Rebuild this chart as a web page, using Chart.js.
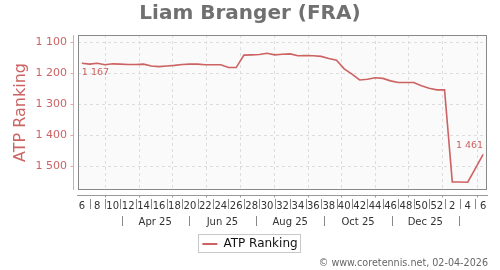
<!DOCTYPE html>
<html>
<head>
<meta charset="utf-8">
<script src="https://cdn.jsdelivr.net/npm/chart.js@4.4.1/dist/chart.umd.min.js"></script>
<style>
  html, body { margin: 0; padding: 0; background: #fff; }
  #wrap { width: 500px; height: 270px; }
</style>
</head>
<body>
<div id="wrap"><canvas id="rankChart" width="500" height="270"></canvas></div>
<script>
// ISO week of each weekly ranking (Feb 2025 -> Feb 2026)
const weeks = [
  "6", "7", "8", "9", "10", "11", "12", "13", "14", "15",
  "16", "17", "18", "19", "20", "21", "22", "23", "24", "25",
  "26", "27", "28", "29", "30", "31", "32", "33", "34", "35",
  "36", "37", "38", "39", "40", "41", "42", "43", "44", "45",
  "46", "47", "48", "49", "50", "51", "52", "1", "2", "3",
  "4", "5", "6"
];

// ATP ranking, one value per week
const ranking = [
  1167, 1170, 1167, 1172, 1169, 1170, 1171, 1171, 1170, 1176,
  1178, 1176, 1174, 1171, 1170, 1170, 1172, 1172, 1172, 1181,
  1181, 1141, 1140, 1139, 1135, 1140, 1138, 1137, 1143, 1142,
  1143, 1145, 1152, 1157, 1185, 1202, 1221, 1219, 1214, 1216,
  1224, 1229, 1229, 1229, 1240, 1248, 1253, 1253, 1550, 1550,
  1551, 1506, 1461
];

const yTicks = [1100, 1200, 1300, 1400, 1500];

// dates used for the second row of the x axis
const firstWeekDate = "2025-02-08";
const monthGrid = [
  "2025-03-01", "2025-04-01", "2025-05-01", "2025-06-01", "2025-07-01", "2025-08-01",
  "2025-09-01", "2025-10-01", "2025-11-01", "2025-12-01", "2026-01-01", "2026-02-01"
];
const monthBounds = ["2025-03-16", "2025-05-16", "2025-07-16", "2025-09-16", "2025-11-16", "2026-01-16"];
const monthLabels = ["Apr 25", "Jun 25", "Aug 25", "Oct 25", "Dec 25"];

const lineColor = "#cd6262";
const FONT = "'DejaVu Sans', Verdana, sans-serif";

Chart.defaults.font.family = FONT;

function weekIndex(dateStr) {
  return (Date.parse(dateStr) - Date.parse(firstWeekDate)) / (7 * 86400000);
}

function formatRank(v) {
  return String(v).replace(/\B(?=(\d{3})+(?!\d))/g, " ");
}

// plot background, frame, axis lines, separators, point labels, footer
const decorPlugin = {
  id: "decor",
  beforeDraw(chart) {
    const { ctx, chartArea: a } = chart;
    ctx.save();
    ctx.fillStyle = "#fafafa";
    ctx.fillRect(a.left, a.top, a.right - a.left, a.bottom - a.top);
    ctx.restore();
  },
  beforeDatasetsDraw(chart) {
    const { ctx, chartArea: a } = chart;
    const xs = chart.scales.x;
    ctx.save();
    ctx.strokeStyle = "#dddddd";
    ctx.lineWidth = 1;
    ctx.setLineDash([3, 3]);
    monthGrid.forEach((d) => {
      const px = Math.round(xs.getPixelForValue(weekIndex(d))) + 0.5;
      ctx.beginPath();
      ctx.moveTo(px, a.top);
      ctx.lineTo(px, a.bottom);
      ctx.stroke();
    });
    ctx.restore();
  },
  afterDraw(chart) {
    const { ctx, chartArea: a } = chart;
    const xs = chart.scales.x;
    const ys = chart.scales.y;
    ctx.save();

    // frame
    ctx.strokeStyle = "#888";
    ctx.lineWidth = 1;
    ctx.strokeRect(a.left + 0.5, a.top + 0.5, a.right - a.left - 1, a.bottom - a.top - 1);

    // y axis line
    const yx = a.left - 5 + 0.5;
    ctx.strokeStyle = "#e3a5a5";
    ctx.beginPath();
    ctx.moveTo(yx, a.top);
    ctx.lineTo(yx, a.bottom);
    yTicks.forEach((v) => {
      const py = Math.round(ys.getPixelForValue(v)) + 0.5;
      ctx.moveTo(yx - 3, py);
      ctx.lineTo(yx, py);
    });
    ctx.stroke();

    // x axis line + month ticks
    const xy = a.bottom + 5 + 0.5;
    ctx.strokeStyle = "#999";
    ctx.beginPath();
    ctx.moveTo(a.left - 1, xy);
    ctx.lineTo(a.right + 1, xy);
    monthGrid.forEach((d) => {
      const px = Math.round(xs.getPixelForValue(weekIndex(d))) + 0.5;
      ctx.moveTo(px, xy);
      ctx.lineTo(px, xy + 2);
    });
    ctx.stroke();

    // week separators
    ctx.strokeStyle = "#888";
    ctx.beginPath();
    for (let i = 1; i < weeks.length; i += 2) {
      const px = Math.round(xs.getPixelForValue(i)) + 0.5;
      ctx.moveTo(px, a.bottom + 9);
      ctx.lineTo(px, a.bottom + 19);
    }
    ctx.stroke();

    // month row
    ctx.beginPath();
    monthBounds.forEach((d) => {
      const px = Math.round(xs.getPixelForValue(weekIndex(d))) + 0.5;
      ctx.moveTo(px, a.bottom + 26);
      ctx.lineTo(px, a.bottom + 36);
    });
    ctx.stroke();
    ctx.fillStyle = "#333";
    ctx.font = "10px " + FONT;
    ctx.textAlign = "center";
    ctx.textBaseline = "middle";
    monthLabels.forEach((lab, i) => {
      const mid = (weekIndex(monthBounds[i]) + weekIndex(monthBounds[i + 1])) / 2;
      ctx.fillText(lab, xs.getPixelForValue(mid), a.bottom + 32);
    });

    // first / last value labels
    const pts = chart.getDatasetMeta(0).data;
    const first = pts[0];
    const last = pts[pts.length - 1];
    ctx.fillStyle = lineColor;
    ctx.font = "9.5px " + FONT;
    ctx.textAlign = "left";
    ctx.fillText(formatRank(ranking[0]), first.x, first.y + 9);
    ctx.textAlign = "right";
    ctx.fillText(formatRank(ranking[ranking.length - 1]), last.x, last.y - 9);

    // legend border
    const hb = chart.legend.legendHitBoxes[0];
    if (hb) {
      ctx.strokeStyle = "#c8c8c8";
      ctx.strokeRect(Math.round(hb.left) - 3.5, Math.round(hb.top) - 3.5, Math.round(hb.width) + 7, Math.round(hb.height) + 6);
    }

    // footer
    ctx.fillStyle = "#666";
    ctx.font = "9.6px " + FONT;
    ctx.textAlign = "right";
    ctx.fillText("\u00a9 www.coretennis.net, 02-04-2026", chart.width - 12, chart.height - 7);
    ctx.restore();
  }
};

new Chart(document.getElementById("rankChart"), {
  type: "line",
  data: {
    labels: weeks,
    datasets: [
      {
        label: "ATP Ranking",
        data: ranking,
        borderColor: lineColor,
        backgroundColor: lineColor,
        borderWidth: 1.6,
        pointRadius: 0,
        tension: 0,
        fill: false,
      },
    ],
  },
  options: {
    responsive: false,
    animation: false,
    layout: { padding: { left: 0, right: 0, top: 0, bottom: 10 } },
    plugins: {
      title: {
        display: true,
        text: "Liam Branger (FRA)",
        color: "#707070",
        font: { size: 20, weight: "bold" },
        padding: { top: 2, bottom: 9 },
      },
      legend: {
        position: "bottom",
        labels: {
          color: "#111",
          font: { size: 12 },
          boxWidth: 15,
          boxHeight: 2,
          padding: 6,
          generateLabels(chart) {
            const items = Chart.defaults.plugins.legend.labels.generateLabels(chart);
            items.forEach((it) => {
              it.lineWidth = 0;
              it.fillStyle = lineColor;
            });
            return items;
          },
        },
      },
      tooltip: { enabled: false },
    },
    scales: {
      x: {
        type: "category",
        offset: true,
        grid: { display: false },
        border: { display: false },
        ticks: {
          autoSkip: false,
          maxRotation: 0,
          color: "#333",
          font: { size: 10 },
          padding: 2,
          callback: function (value, index) {
            return index % 2 === 0 ? weeks[index] : "";
          },
        },
        afterFit(scale) {
          scale.height = 42;
        },
      },
      y: {
        reverse: true,
        min: 1076,
        max: 1576,
        afterBuildTicks(scale) {
          scale.ticks = yTicks.map((v) => ({ value: v }));
        },
        grid: { color: "#dddddd", drawTicks: false },
        border: { display: false, dash: [3, 3] },
        ticks: {
          color: "rgb(205,100,100)",
          font: { size: 11 },
          padding: 11,
          callback: (v) => formatRank(v),
        },
        title: {
          display: true,
          text: "ATP Ranking",
          color: "rgb(205,100,100)",
          font: { size: 16 },
          padding: { top: 11, bottom: 0 },
        },
        afterFit(scale) {
          scale.width = 78;
        },
      },
      // empty right-hand strip so the title and legend stay centred on the canvas
      yRight: {
        position: "right",
        display: true,
        grid: { display: false },
        border: { display: false },
        ticks: { display: false },
        afterFit(scale) {
          scale.width = 13;
        },
      },
    },
  },
  plugins: [decorPlugin],
});
</script>
</body>
</html>
